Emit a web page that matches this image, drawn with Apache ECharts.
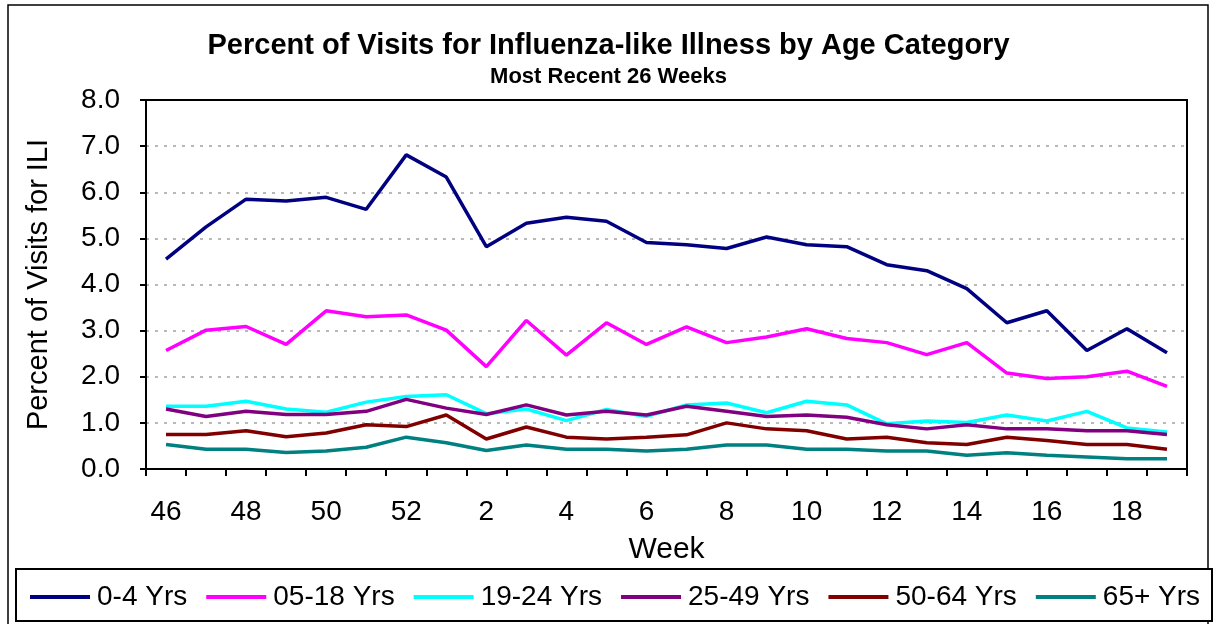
<!DOCTYPE html>
<html>
<head>
<meta charset="utf-8">
<script src="https://cdn.jsdelivr.net/npm/echarts@6/dist/echarts.min.js"></script>
<style>
	html, body { margin: 0; padding: 0; background: #fff; }
	#chart { width: 1217px; height: 624px; }
</style>
</head>
<body>
<div id="chart"></div>
<script>
// week numbers, 46..52 then 1..19
const weeks = ['46', '47', '48', '49', '50', '51', '52', '1', '2', '3', '4', '5', '6', '7', '8', '9', '10', '11', '12', '13', '14', '15', '16', '17', '18', '19'];

const age0_4 = [4.55, 5.25, 5.85, 5.81, 5.89, 5.63, 6.81, 6.33, 4.82, 5.33, 5.46, 5.37, 4.91, 4.86, 4.78, 5.03, 4.86, 4.82, 4.43, 4.30, 3.91, 3.17, 3.43, 2.57, 3.04, 2.52];
const age05_18 = [2.57, 3.01, 3.09, 2.70, 3.43, 3.30, 3.34, 3.01, 2.22, 3.22, 2.47, 3.17, 2.70, 3.08, 2.74, 2.86, 3.04, 2.83, 2.74, 2.48, 2.74, 2.08, 1.96, 2.00, 2.12, 1.79];
const age19_24 = [1.36, 1.36, 1.47, 1.30, 1.23, 1.45, 1.57, 1.61, 1.20, 1.30, 1.05, 1.29, 1.14, 1.39, 1.43, 1.22, 1.47, 1.39, 0.98, 1.04, 1.01, 1.17, 1.04, 1.25, 0.89, 0.80];
const age25_49 = [1.30, 1.14, 1.25, 1.18, 1.18, 1.25, 1.51, 1.32, 1.18, 1.39, 1.17, 1.25, 1.17, 1.36, 1.25, 1.14, 1.17, 1.12, 0.96, 0.87, 0.96, 0.87, 0.87, 0.83, 0.83, 0.75];
const age50_64 = [0.75, 0.75, 0.83, 0.70, 0.78, 0.96, 0.92, 1.17, 0.65, 0.91, 0.69, 0.65, 0.69, 0.74, 1.00, 0.87, 0.83, 0.65, 0.69, 0.57, 0.53, 0.69, 0.62, 0.53, 0.53, 0.43];
const age65 = [0.53, 0.43, 0.43, 0.36, 0.39, 0.47, 0.69, 0.57, 0.40, 0.52, 0.43, 0.43, 0.39, 0.43, 0.52, 0.52, 0.43, 0.43, 0.39, 0.39, 0.30, 0.35, 0.30, 0.26, 0.22, 0.22];

const seriesInfo = [
	{ name: '0-4 Yrs', color: '#000080', data: age0_4 },
	{ name: '05-18 Yrs', color: '#ff00ff', data: age05_18 },
	{ name: '19-24 Yrs', color: '#00ffff', data: age19_24 },
	{ name: '25-49 Yrs', color: '#800080', data: age25_49 },
	{ name: '50-64 Yrs', color: '#800000', data: age50_64 },
	{ name: '65+ Yrs', color: '#008080', data: age65 }
];

const font = 'Liberation Sans, Arial, sans-serif';
const chart = echarts.init(document.getElementById('chart'));

// plot area, in px
const gridL = 146, gridT = 100, gridR = 30, gridB = 155;

const option = {
	animation: false,
	textStyle: { fontFamily: font, color: '#000' },
	title: [{
		text: 'Percent of Visits for Influenza-like Illness by Age Category',
		left: 'center',
		top: 26,
		textStyle: { fontSize: 29, fontWeight: 'bold', color: '#000', fontFamily: font }
	}, {
		text: 'Most Recent 26 Weeks',
		left: 'center',
		top: 61,
		textStyle: { fontSize: 22, fontWeight: 'bold', color: '#000', fontFamily: font }
	}],
	// outer frame, legend box, plot frame on top of the dashed lines
	graphic: [{
		type: 'rect',
		shape: { x: 8, y: 5, width: 1200, height: 630 },
		style: { fill: 'none', stroke: '#000', lineWidth: 1.5 },
		silent: true
	}, {
		type: 'rect',
		shape: { x: 16, y: 569, width: 1196, height: 52 },
		style: { fill: '#fff', stroke: '#000', lineWidth: 2 },
		silent: true
	}, {
		type: 'rect',
		shape: { x: gridL, y: gridT, width: 1217 - gridL - gridR, height: 624 - gridT - gridB },
		style: { fill: 'none', stroke: '#000', lineWidth: 2 },
		silent: true,
		z: 100
	}],
	legend: {
		left: 25,
		top: 578,
		itemGap: 19,
		itemWidth: 60,
		itemHeight: 4,
		icon: 'rect',
		textStyle: { fontSize: 28, color: '#000', fontFamily: font, padding: [0, 0, 0, 2] },
		z: 10
	},
	grid: {
		left: gridL,
		right: gridR,
		top: gridT,
		bottom: gridB
	},
	xAxis: {
		type: 'category',
		data: weeks,
		boundaryGap: true,
		name: 'Week',
		nameLocation: 'middle',
		nameGap: 66,
		nameTextStyle: { fontSize: 30, color: '#000', fontFamily: font },
		axisLine: { lineStyle: { color: '#000', width: 2 } },
		axisTick: { show: true, interval: 0, length: 7, lineStyle: { color: '#000', width: 2 } },
		axisLabel: { interval: 1, fontSize: 28, color: '#000', margin: 29, fontFamily: font }
	},
	yAxis: {
		type: 'value',
		min: 0,
		max: 8,
		interval: 1,
		name: 'Percent of Visits for ILI',
		nameLocation: 'middle',
		nameGap: 93,
		nameTextStyle: { fontSize: 29, color: '#000', fontFamily: font },
		axisLine: { show: true, lineStyle: { color: '#000', width: 2 } },
		axisTick: { show: true, length: 6, lineStyle: { color: '#000', width: 2 } },
		axisLabel: {
			fontSize: 28,
			color: '#000',
			margin: 26,
			fontFamily: font,
			formatter: function(v) { return v.toFixed(1); }
		},
		splitLine: { show: true, lineStyle: { color: '#b8b8b8', type: [3, 6], width: 2 } }
	},
	series: seriesInfo.map(function(s) {
		return {
			name: s.name,
			type: 'line',
			data: s.data,
			symbol: 'none',
			color: s.color,
			lineStyle: { color: s.color, width: 3.5 }
		};
	})
};

chart.setOption(option);
</script>
</body>
</html>
